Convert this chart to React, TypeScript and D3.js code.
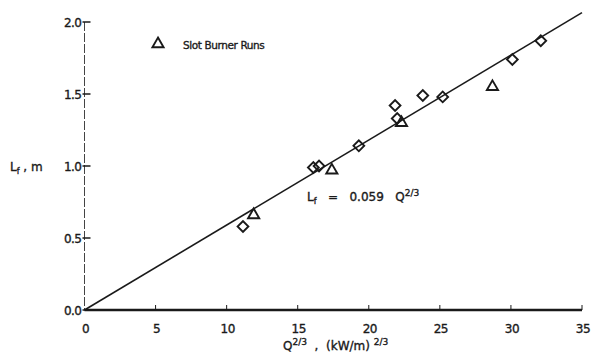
import React from "react";
import * as d3 from "d3";

// Flame length vs. heat release rate to the 2/3 power
const diamondX = [11.15, 16.1, 16.5, 19.3, 21.85, 22.0, 23.8, 25.2, 30.1, 32.1];
const diamondY = [0.58, 0.99, 1.0, 1.14, 1.42, 1.33, 1.49, 1.48, 1.74, 1.87];

// Slot burner runs
const triangleX = [11.9, 17.4, 22.3, 28.7];
const triangleY = [0.66, 0.97, 1.3, 1.55];

const xTicks = [0, 5, 10, 15, 20, 25, 30, 35];
const yTicks = [0.0, 0.5, 1.0, 1.5, 2.0];
const fitCoef = 0.059;

const W = 598;
const H = 355;
const FONT = "'DejaVu Sans', sans-serif";
const INK = "#1a1a1a";

export default function App() {
  const x = d3.scaleLinear().domain([0, 35]).range([84.5, 582]);
  const y = d3.scaleLinear().domain([0, 2]).range([310, 22]);

  const fitLine = d3
    .line<number>()
    .x((d) => x(d))
    .y((d) => y(fitCoef * d));

  const diamond = d3.symbol().type(d3.symbolSquare).size(58)();
  const triangle = d3.symbol().type(d3.symbolTriangle).size(54)();

  const textStyle = { stroke: INK, strokeWidth: 0.35, whiteSpace: "pre" as const };

  return (
    <svg
      width={W}
      height={H}
      style={{ position: "absolute", left: 0, top: 0, background: "#fff" }}
    >
      {/* y axis */}
      <line
        x1={x(0)}
        x2={x(0)}
        y1={y(2)}
        y2={y(0)}
        stroke="#444"
        strokeWidth={1}
        strokeDasharray="9 2"
      />
      {yTicks.map((t) => (
        <g key={"y" + t}>
          <line x1={x(0) - 2} x2={x(0) + 6} y1={y(t)} y2={y(t)} stroke={INK} strokeWidth={1.5} />
          <text
            x={x(0) - 3}
            y={y(t) + 4.5}
            textAnchor="end"
            fontFamily={FONT}
            fontSize={12}
            fill={INK}
            letterSpacing={-0.5}
            style={textStyle}
          >
            {t.toFixed(1)}
          </text>
        </g>
      ))}
      <text x={10} y={y(1) + 4.5} fontFamily={FONT} fontSize={12} fill={INK} style={textStyle}>
        L
        <tspan fontSize={8} dy={3}>f</tspan>
        <tspan dy={-3}> , m</tspan>
      </text>

      {/* x axis */}
      <line x1={x(0)} x2={x(35)} y1={y(0)} y2={y(0)} stroke={INK} strokeWidth={2.5} />
      {xTicks.map((t) => (
        <g key={"x" + t}>
          {t > 0 && (
            <line x1={x(t)} x2={x(t)} y1={y(0)} y2={y(0) - 5} stroke={INK} strokeWidth={1} />
          )}
          <text
            x={x(t) + 1}
            y={y(0) + 23}
            textAnchor="middle"
            fontFamily={FONT}
            fontSize={12}
            fill={INK}
            letterSpacing={-0.5}
            style={textStyle}
          >
            {t}
          </text>
        </g>
      ))}
      <text x={283} y={350} fontFamily={FONT} fontSize={12} fill={INK} style={textStyle}>
        Q
        <tspan fontSize={9} dy={-5}>2/3</tspan>
        <tspan dy={5}>  ,  (kW/m) </tspan>
        <tspan fontSize={9} dy={-5}>2/3</tspan>
      </text>

      {/* correlation line */}
      <path d={fitLine([0, 35]) ?? ""} fill="none" stroke={INK} strokeWidth={1.6} />
      <text x={307} y={201} fontFamily={FONT} fontSize={12} fill={INK} style={textStyle}>
        L
        <tspan fontSize={8} dy={3}>f</tspan>
        <tspan dy={-3}>   =   0.059   Q</tspan>
        <tspan fontSize={9} dy={-5}>2/3</tspan>
      </text>

      {/* data */}
      {diamondX.map((v, i) => (
        <path
          key={"d" + i}
          d={diamond ?? ""}
          transform={`translate(${x(v)},${y(diamondY[i])}) rotate(45)`}
          fill="none"
          stroke={INK}
          strokeWidth={1.9}
        />
      ))}
      {triangleX.map((v, i) => (
        <path
          key={"t" + i}
          d={triangle ?? ""}
          transform={`translate(${x(v)},${y(triangleY[i])})`}
          fill="none"
          stroke={INK}
          strokeWidth={1.9}
        />
      ))}

      {/* legend */}
      <path d={triangle ?? ""} transform="translate(158,44)" fill="none" stroke={INK} strokeWidth={1.9} />
      <text
        x={183}
        y={49}
        fontFamily={FONT}
        fontSize={10.5}
        fill={INK}
        letterSpacing={-0.4}
        style={textStyle}
      >
        Slot Burner Runs
      </text>
    </svg>
  );
}
